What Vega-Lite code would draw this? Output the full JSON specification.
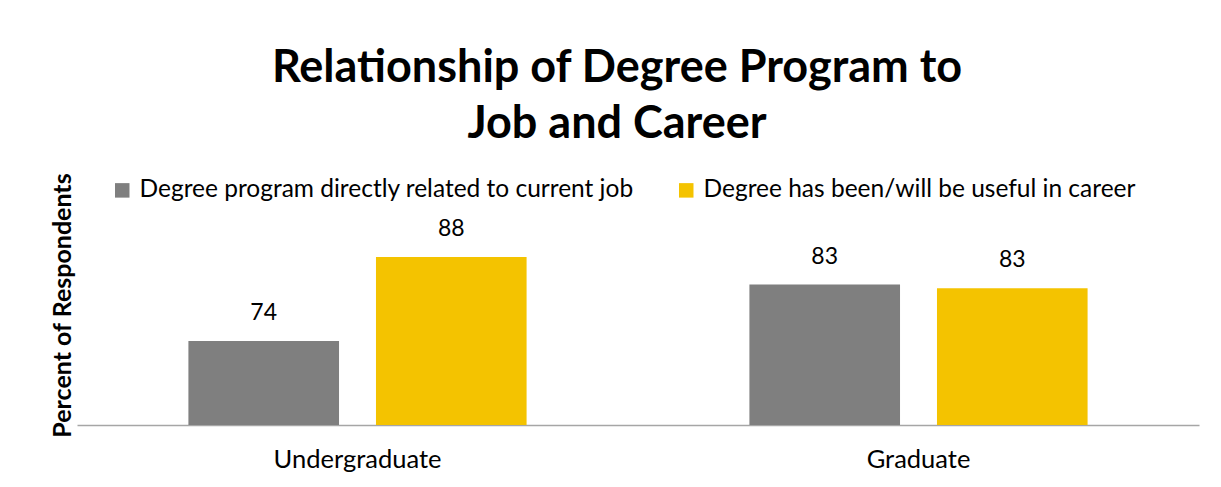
{
  "$schema": "https://vega.github.io/schema/vega-lite/v6.json",
  "width": 1122,
  "height": 240,
  "autosize": {"type": "none"},
  "padding": {"left": 77, "top": 185, "right": 22, "bottom": 62},
  "background": "white",
  "title": {
    "text": ["Relationship of Degree Program to", "Job and Career"],
    "fontSize": 45,
    "fontWeight": "bold",
    "font": "Lato",
    "lineHeight": 56,
    "anchor": "middle",
    "frame": "group",
    "dx": -21,
    "offset": 26,
    "color": "black"
  },
  "data": {
    "values": [
      {"level": "Undergraduate", "series": "Degree program directly related to current job", "value": 74},
      {"level": "Undergraduate", "series": "Degree has been/will be useful in career", "value": 88},
      {"level": "Graduate", "series": "Degree program directly related to current job", "value": 83.4},
      {"level": "Graduate", "series": "Degree has been/will be useful in career", "value": 82.8}
    ]
  },
  "encoding": {
    "x": {
      "field": "level",
      "type": "nominal",
      "sort": ["Undergraduate", "Graduate"],
      "scale": {"paddingInner": 0, "paddingOuter": 0},
      "axis": {
        "title": null,
        "labelAngle": 0,
        "ticks": false,
        "labelFontSize": 25.5,
        "labelFont": "Lato",
        "labelColor": "black",
        "labelPadding": 22,
        "domainColor": "#A6A6A6",
        "domainWidth": 1.5
      }
    },
    "xOffset": {
      "field": "series",
      "type": "nominal",
      "sort": ["Degree program directly related to current job", "Degree has been/will be useful in career"],
      "scale": {"paddingInner": 0.197, "paddingOuter": 0.594}
    },
    "y": {
      "field": "value",
      "type": "quantitative",
      "scale": {"domain": [60, 100], "zero": false, "nice": false},
      "axis": {
        "title": "Percent of Respondents",
        "titleFontSize": 25,
        "titleFont": "Lato",
        "titleFontWeight": "bold",
        "titleColor": "black",
        "titlePadding": 2,
        "labels": false,
        "ticks": false,
        "domain": false,
        "grid": false
      }
    }
  },
  "layer": [
    {
      "mark": {"type": "bar", "clip": true},
      "encoding": {
        "color": {
          "field": "series",
          "type": "nominal",
          "sort": ["Degree program directly related to current job", "Degree has been/will be useful in career"],
          "scale": {"range": ["#7F7F7F", "#F4C300"]},
          "legend": {
            "title": null,
            "orient": "none",
            "legendX": 33,
            "legendY": -7,
            "direction": "horizontal",
            "symbolType": "square",
            "symbolSize": 210,
            "symbolStrokeWidth": 0,
            "labelFontSize": 24.5,
            "labelFont": "Lato",
            "labelColor": "black",
            "labelOffset": 5,
            "columnPadding": 40,
            "labelLimit": 700
          }
        }
      }
    },
    {
      "mark": {"type": "text", "dy": -16, "baseline": "bottom", "fontSize": 23, "font": "Lato", "color": "black"},
      "encoding": {
        "text": {"field": "value", "type": "quantitative", "format": ".0f"}
      }
    }
  ],
  "config": {"view": {"stroke": null}}
}
